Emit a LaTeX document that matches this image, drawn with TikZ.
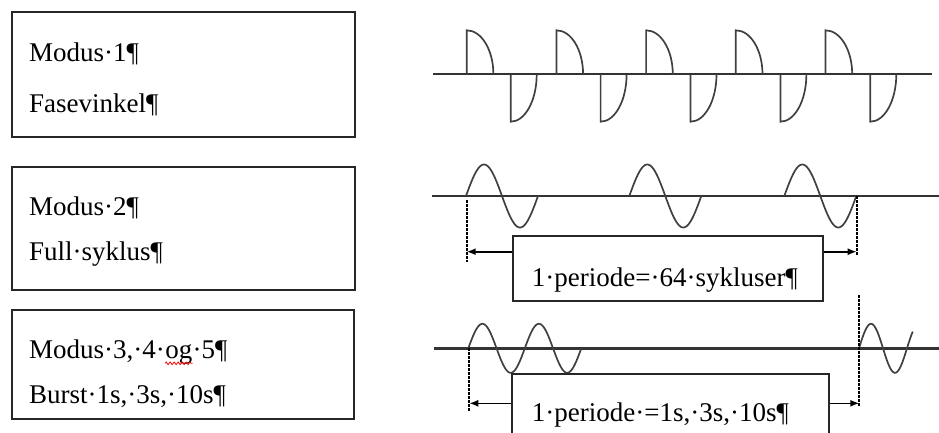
\documentclass[tikz,border=0pt]{standalone}
\usepackage{fontspec}
\setmainfont{Liberation Serif}
\usetikzlibrary{arrows.meta,decorations.pathmorphing}
\begin{document}
\begin{tikzpicture}[x=1pt,y=-1pt,
  frame/.style={draw=black!85, line width=1.8pt, fill=white, anchor=north west, inner sep=0pt},
  txt/.style={anchor=base west, inner sep=0pt, font=\fontsize{27}{32}\selectfont},
  axis/.style={draw=black!80, line width=2pt},
  wave/.style={draw=black!75, line width=1.7pt},
  guide/.style={draw=black, line width=2.2pt, dash pattern=on 2.5pt off 1.5pt},
  dim/.style={draw=black, line width=1.6pt, -{Latex[length=9pt,width=7pt]}}]
\useasboundingbox (0,0) rectangle (939,432);
\clip (0,0) rectangle (939,432);

% left boxes
\node[frame, minimum width=343pt, minimum height=125pt] (b1) at (11,11) {};
\node[frame, minimum width=343pt, minimum height=123pt] (b2) at (11,166) {};
\node[frame, minimum width=342pt, minimum height=109pt] (b3) at (11,309) {};

\node[txt] (t1a) at (29,61.5) {Modus·1¶};
\node[txt] (t1b) at (29,112) {Fasevinkel¶};
\node[txt] (t2a) at (29,215) {Modus·2¶};
\node[txt] (t2b) at (29,260) {Full·syklus¶};
\node[txt] (t3a) at (29,358.3) {Modus·3,·4·};
\node[txt] (t3og) at (t3a.base east) {og};
\node[txt] (t3c) at (t3og.base east) {·5¶};
\node[txt] (t3b) at (29,403.3) {Burst·1s,·3s,·10s¶};
\draw[red, line width=0.8pt, decorate, decoration={zigzag, amplitude=1.3pt, segment length=4pt}]
  ([yshift=-5pt]t3og.base west) -- ([yshift=-5pt]t3og.base east);

% waveform 1: phase-angle pulses
\coordinate (a1l) at (433,74.3);
\coordinate (a1r) at (932,74.3);
\draw[axis] (a1l) -- (a1r);
\foreach \i in {0,...,4}{
  \draw[wave] (466.7+89.7*\i,74.3) -- ++(0,-44)
     arc[start angle=90, end angle=0, x radius=26.7pt, y radius=44pt];
  \draw[wave] (510.7+89.9*\i,74.3) -- ++(0,47.4)
     arc[start angle=270, end angle=360, x radius=26pt, y radius=47.4pt];
}

% waveform 2: full cycles
\coordinate (a2l) at (431.7,196);
\coordinate (a2r) at (939,196);
\draw[axis] (a2l) -- (a2r);
\foreach \s in {466,629.3,784.3}{
  \draw[wave] plot[domain=0:360, samples=61, variable=\t, smooth] ({\s+\t/360*72}, {196-31.5*sin(\t)});
}
\coordinate (g2lt) at (466.7,200);
\coordinate (g2lb) at (466.7,261.7);
\coordinate (g2rt) at (856.7,196);
\coordinate (g2rb) at (856.7,255);
\draw[guide] (g2lt) -- (g2lb);
\draw[guide] (g2rt) -- (g2rb);
\node[frame, minimum width=310pt, minimum height=65pt] (p2) at (511.7,235) {};
\node[txt] (p2t) at (531.7,286.7) {1·periode=·64·sykluser¶};
\coordinate (ar2l) at (466.7,251.7);
\coordinate (ar2r) at (856.7,251.7);
\draw[dim] (p2.west |- ar2l) -- (ar2l);
\draw[dim] (p2.east |- ar2r) -- (ar2r);

% waveform 3: bursts
\coordinate (a3l) at (434,348.3);
\coordinate (a3r) at (939,348.3);
\draw[axis, line width=2.4pt] (a3l) -- (a3r);
\draw[wave] plot[domain=0:720, samples=121, variable=\t, smooth] ({468.3+\t/360*56.5}, {348.3-24.5*sin(\t)});
\draw[wave] plot[domain=0:403, samples=70, variable=\t, smooth] ({859+\t/360*48}, {348.3-24.5*sin(\t)});
\coordinate (g3lt) at (469.3,348.3);
\coordinate (g3lb) at (469.3,411.7);
\coordinate (g3rt) at (859.3,295);
\coordinate (g3rb) at (859.3,406.7);
\draw[guide] (g3lt) -- (g3lb);
\draw[guide] (g3rt) -- (g3rb);
\node[frame, minimum width=317.3pt, minimum height=100pt] (p3) at (511,372.7) {};
\node[txt] (p3t) at (531.7,421.7) {1·periode·=1s,·3s,·10s¶};
\coordinate (ar3l) at (469.3,403.3);
\coordinate (ar3r) at (859.3,403.3);
\draw[dim] (p3.west |- ar3l) -- (ar3l);
\draw[dim] (p3.east |- ar3r) -- (ar3r);
\end{tikzpicture}
\end{document}
